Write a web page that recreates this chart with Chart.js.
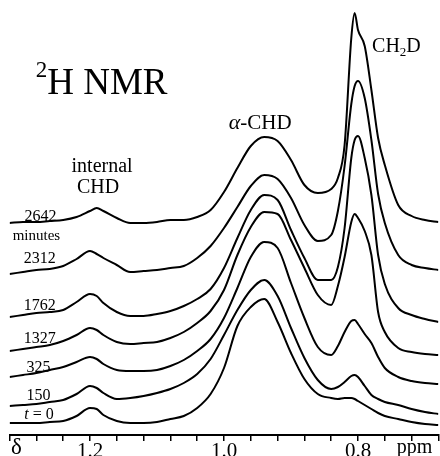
<!DOCTYPE html>
<html>
<head>
    <title>2H NMR spectra</title>
    <style>
        body {
            margin: 0;
            background: #ffffff;
        }
        #chart-box {
            width: 440px;
            height: 456px;
        }
    </style>
    <script src="https://cdn.jsdelivr.net/npm/chart.js"></script>
</head>
<body>
    <div id="chart-box">
        <canvas id="nmrChart"></canvas>
    </div>
    <script>
        // chemical shift (ppm) of each reading
        const shifts = [1.32, 1.30, 1.28, 1.26, 1.24, 1.22, 1.20, 1.19, 1.18, 1.16, 1.14, 1.12, 1.10,
            1.08, 1.06, 1.04, 1.02, 1.00, 0.98, 0.96, 0.94, 0.92, 0.90, 0.88, 0.86, 0.84, 0.83,
            0.82, 0.81, 0.805, 0.80, 0.79, 0.78, 0.77, 0.76, 0.74, 0.72, 0.70, 0.68];

        // stacked intensities (offset included), one array per time
        const trace0 = [12, 12, 12, 13, 14, 19, 27, 26, 20, 14, 12, 12, 13, 16, 19, 27, 41, 67, 109, 128,
            136, 113, 82, 56, 41, 37, 36, 37, 37, 36, 34, 30, 26, 22, 19, 16, 13, 11, 10];
        const trace150 = [29, 30, 31, 33, 35, 41, 49, 47, 42, 36, 37, 39, 42, 46, 52, 61, 76, 100, 125, 145,
            155, 139, 107, 77, 55, 46, 48, 53, 59, 60, 58, 49, 40, 36, 33, 30, 26, 23, 21];
        const trace325 = [58, 60, 62, 65, 68, 73, 78, 76, 71, 65, 64, 64, 65, 69, 75, 84, 96, 117, 147, 178,
            193, 187, 152, 117, 88, 80, 89, 103, 114, 115, 111, 101, 92, 78, 67, 58, 54, 52, 51];
        const trace1327 = [84, 86, 88, 90, 94, 100, 107, 105, 100, 93, 91, 92, 93, 97, 103, 112, 124, 145, 180, 208,
            223, 221, 195, 167, 140, 130, 149, 178, 213, 221, 217, 204, 180, 123, 103, 87, 83, 81, 80];
        const trace1762 = [118, 120, 122, 123, 125, 133, 141, 139, 132, 123, 119, 119, 121, 124, 129, 136, 146, 167, 197, 225,
            240, 235, 205, 177, 155, 155, 168, 207, 277, 295, 299, 277, 240, 180, 151, 127, 120, 116, 113];
        const trace2312 = [161, 163, 165, 166, 169, 176, 184, 181, 177, 170, 163, 164, 165, 167, 169, 177, 189, 207, 228, 249,
            260, 256, 237, 210, 194, 200, 224, 269, 331, 349, 354, 337, 295, 241, 212, 180, 170, 167, 165];
        const trace2642 = [212, 213, 213, 214, 215, 218, 224, 227, 224, 217, 212, 212, 213, 215, 215, 218, 225, 243, 267, 289,
            298, 294, 275, 250, 242, 246, 257, 290, 397, 422, 405, 389, 345, 297, 270, 230, 219, 215, 213];

        const traces = [trace0, trace150, trace325, trace1327, trace1762, trace2312, trace2642];
        const traceNames = ['t = 0', '150', '325', '1327', '1762', '2312', '2642'];

        // axis: labelled ticks
        const tickValues = [1.2, 1.0, 0.8];
        const tickLabels = ['1.2', '1.0', '0.8'];

        const SERIF = '"Liberation Serif", "DejaVu Serif", serif';

        // where each time label sits (ppm, height)
        const labelSpots = [[1.276, 16], [1.277, 35], [1.277, 63], [1.275, 92], [1.275, 125], [1.275, 172], [1.274, 214]];

        function px(chart, ppm, h) {
            return [chart.scales.x.getPixelForValue(ppm), chart.scales.y.getPixelForValue(h)];
        }

        const textPlugin = {
            id: 'nmrText',
            afterDraw(chart) {
                const ctx = chart.ctx;
                ctx.save();
                ctx.fillStyle = '#000';
                ctx.textBaseline = 'alphabetic';

                // title  2H NMR
                let [x, y] = px(chart, 1.281, 341);
                ctx.textAlign = 'left';
                ctx.font = '23px ' + SERIF;
                ctx.fillText('2', x, y - 17);
                let w = ctx.measureText('2').width;
                ctx.font = '37px ' + SERIF;
                ctx.fillText('H NMR', x + w, y);

                // alpha-CHD
                [x, y] = px(chart, 0.946, 306);
                ctx.font = 'italic 22px ' + SERIF;
                const wa = ctx.measureText('\u03B1').width;
                ctx.font = '21px ' + SERIF;
                const wc = ctx.measureText('-CHD').width;
                let sx = x - (wa + wc) / 2;
                ctx.font = 'italic 22px ' + SERIF;
                ctx.fillText('\u03B1', sx, y);
                ctx.font = '21px ' + SERIF;
                ctx.fillText('-CHD', sx + wa, y);

                // CH2D
                [x, y] = px(chart, 0.779, 383);
                ctx.font = '20px ' + SERIF;
                ctx.fillText('CH', x, y);
                sx = x + ctx.measureText('CH').width;
                ctx.font = '13px ' + SERIF;
                ctx.fillText('2', sx, y + 4);
                sx += ctx.measureText('2').width;
                ctx.font = '20px ' + SERIF;
                ctx.fillText('D', sx, y);

                // internal CHD
                ctx.textAlign = 'center';
                ctx.font = '20px ' + SERIF;
                [x, y] = px(chart, 1.182, 263);
                ctx.fillText('internal', x, y);
                [x, y] = px(chart, 1.188, 242);
                ctx.fillText('CHD', x, y);

                // time labels
                traceNames.forEach((name, i) => {
                    [x, y] = px(chart, labelSpots[i][0], labelSpots[i][1]);
                    if (name.startsWith('t')) {
                        ctx.textAlign = 'left';
                        ctx.font = 'italic 16px ' + SERIF;
                        const wt = ctx.measureText('t').width;
                        ctx.font = '16px ' + SERIF;
                        const wr = ctx.measureText(' = 0').width;
                        const s = x - (wt + wr) / 2;
                        ctx.font = 'italic 16px ' + SERIF;
                        ctx.fillText('t', s, y);
                        ctx.font = '16px ' + SERIF;
                        ctx.fillText(' = 0', s + wt, y);
                    } else {
                        ctx.textAlign = 'center';
                        ctx.font = '16px ' + SERIF;
                        ctx.fillText(name, x, y);
                    }
                });
                ctx.textAlign = 'center';
                ctx.font = '15px ' + SERIF;
                [x, y] = px(chart, 1.28, 195);
                ctx.fillText('minutes', x, y);

                // axis words
                const bottom = chart.chartArea.bottom;
                ctx.textAlign = 'left';
                ctx.font = '23px ' + SERIF;
                ctx.fillText('\u03B4', chart.scales.x.getPixelForValue(1.318), bottom + 19);
                ctx.font = '20px ' + SERIF;
                ctx.fillText('ppm', chart.scales.x.getPixelForValue(0.742), bottom + 18);
                ctx.restore();
            }
        };

        const datasets = traces.map((vals, i) => ({
            label: traceNames[i],
            data: shifts.map((s, j) => ({ x: s, y: vals[j] })),
            borderColor: '#000',
            borderWidth: 2,
            pointRadius: 0,
            fill: false,
            cubicInterpolationMode: 'monotone'
        }));

        new Chart(document.getElementById('nmrChart'), {
            type: 'line',
            data: { datasets: datasets },
            options: {
                responsive: true,
                maintainAspectRatio: false,
                animation: false,
                layout: { padding: { left: 9.6, right: 1.6, top: 0, bottom: 0 } },
                plugins: {
                    legend: { display: false },
                    tooltip: { enabled: false }
                },
                scales: {
                    x: {
                        type: 'linear',
                        reverse: true,
                        min: 0.68,
                        max: 1.32,
                        afterFit: function(scale) { scale.height = 21; },
                        border: { display: true, color: '#000', width: 2 },
                        grid: {
                            drawOnChartArea: false,
                            drawTicks: true,
                            tickLength: 6,
                            color: '#000',
                            lineWidth: 1.5
                        },
                        ticks: {
                            stepSize: 0.04,
                            autoSkip: false,
                            maxRotation: 0,
                            padding: -2,
                            color: '#000',
                            font: { family: SERIF, size: 21 },
                            callback: function(value) {
                                const k = tickValues.findIndex(t => Math.abs(t - value) < 1e-6);
                                return k >= 0 ? tickLabels[k] : '';
                            }
                        }
                    },
                    y: {
                        display: false,
                        min: 0,
                        max: 435
                    }
                }
            },
            plugins: [textPlugin]
        });
    </script>
</body>
</html>
